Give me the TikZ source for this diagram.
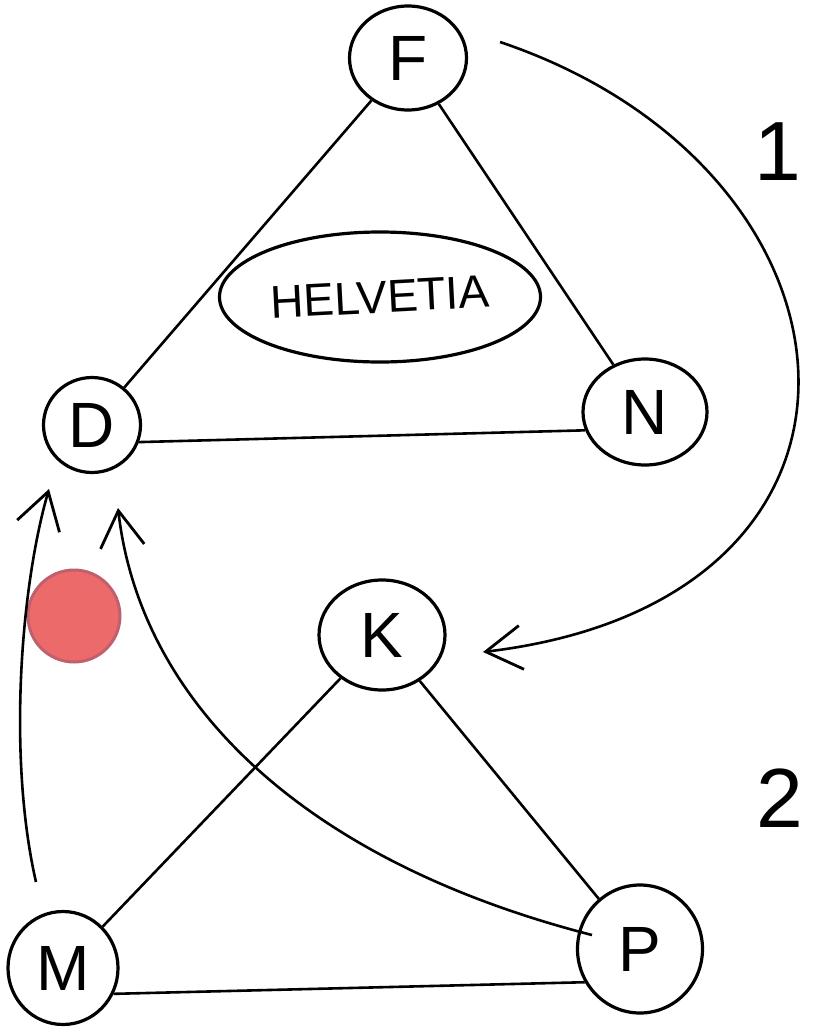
\documentclass[tikz,border=0pt]{standalone}
\usepackage{fontspec}
\setmainfont{Liberation Sans}
\usetikzlibrary{arrows.meta,shapes.geometric}
\begin{document}
\begin{tikzpicture}[x=1pt,y=-1pt,
  vtx/.style={draw,ellipse,line width=3.2pt,inner sep=0pt,font=\fontsize{64}{68}\selectfont},
  edge/.style={line width=2.6pt},
  barb/.style={-{Straight Barb[length=36pt,width=44pt,line width=2.8pt]}},
  lbl/.style={font=\fontsize{84}{88}\selectfont}]
\useasboundingbox (0,0) rectangle (812,1028);
% nodes
\node[vtx,minimum width=117pt,minimum height=104pt] (F) at (408,58) {F};
\node[vtx,minimum width=97pt,minimum height=95pt] (D) at (92,425) {D};
\node[vtx,minimum width=124pt,minimum height=106pt] (N) at (645,412) {N};
\node[vtx,minimum width=126pt,minimum height=110pt] (K) at (382,635) {K};
\node[vtx,minimum width=110pt,minimum height=113pt] (M) at (63,968) {M};
\node[vtx,minimum width=125pt,minimum height=128pt] (P) at (640,949) {P};
\node[draw,ellipse,line width=3.2pt,minimum width=285pt,minimum height=130pt,
  font=\fontsize{46}{50}\selectfont] (H) at (380,297) {\rotatebox{3}{HELVETIA}};
% labels
\node[lbl] (one) at (778,152) {1};
\node[lbl] (two) at (780,798) {2};
% red marker
\node[circle,fill={rgb,255:red,236;green,106;blue,106},draw={rgb,255:red,192;green,96;blue,110},
  line width=3pt,minimum size=92pt,inner sep=0pt] (red) at (74,616) {};
% free ends
\coordinate (fk) at (500,42);
\coordinate (kt) at (483,652);
\coordinate (mb) at (36,882);
\coordinate (dt1) at (49,489);
\coordinate (pb) at (592,935);
\coordinate (dt2) at (118,508);
% straight edges
\draw[edge] (F) -- (D);
\draw[edge] (F) -- (N);
\draw[edge] (D.-20) -- (N.197);
\draw[edge] (K) -- (M);
\draw[edge] (K) -- (P);
\draw[edge] (M.-27) -- (P.211);
% curved arrows
\draw[edge,barb] (fk) .. controls (880,170) and (920,600) .. (kt);
\draw[edge,barb] (mb) .. controls (8,760) and (20,590) .. (dt1);
\draw[edge,barb] (pb) .. controls (300,860) and (140,700) .. (dt2);
\end{tikzpicture}
\end{document}
